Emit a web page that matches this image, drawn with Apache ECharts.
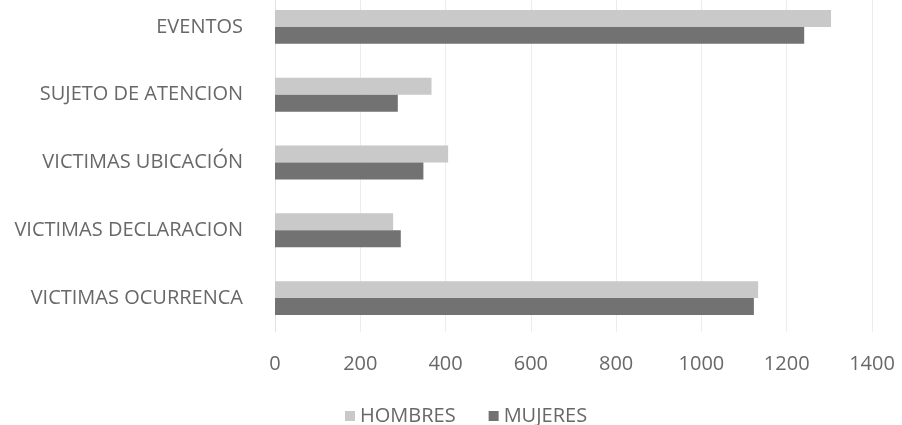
<!DOCTYPE html>
<html>
<head>
<meta charset="utf-8">
<script src="https://cdn.jsdelivr.net/npm/echarts@6/dist/echarts.min.js"></script>
<style>
  html, body { margin: 0; padding: 0; background: #ffffff; overflow: hidden; }
  /* canvas starts slightly above the page so the top band is partly cut */
  #chart { width: 902px; height: 433px; margin-top: -8px; }
</style>
</head>
<body>
<div id="chart"></div>
<script>
// Categories listed top to bottom
const categories = [
  'EVENTOS',
  'SUJETO DE ATENCION',
  'VICTIMAS UBICACIÓN',
  'VICTIMAS DECLARACION',
  'VICTIMAS OCURRENCA'
];
const hombres = [1304, 367, 406, 277, 1133];
const mujeres = [1241, 288, 348, 295, 1123];
const xTicks = [0, 200, 400, 600, 800, 1000, 1200, 1400];

const textColor = '#686868';
const fontFamily = '"Open Sans", "Noto Sans", sans-serif';
const fontSize = 20;

const chart = echarts.init(document.getElementById('chart'), null, { renderer: 'canvas' });
chart.setOption({
  backgroundColor: '#ffffff',
  animation: false,
  textStyle: { fontFamily: fontFamily, color: textColor },
  grid: { left: 275, right: 30, top: 1, bottom: 93, containLabel: false },
  legend: {
    data: ['HOMBRES', 'MUJERES'],
    left: 340,
    top: 409,
    itemWidth: 10,
    itemHeight: 10,
    itemGap: 33,
    icon: 'rect',
    textStyle: { fontFamily: fontFamily, fontSize: fontSize, color: textColor }
  },
  xAxis: {
    type: 'value',
    min: xTicks[0],
    max: xTicks[xTicks.length - 1],
    interval: 200,
    axisLine: { show: false },
    axisTick: { show: false },
    splitLine: { show: true, lineStyle: { color: '#ececec', width: 1 } },
    axisLabel: {
      margin: 22,
      fontSize: fontSize,
      color: textColor,
      fontFamily: fontFamily,
      formatter: function (v) { return String(v); }
    }
  },
  yAxis: {
    type: 'category',
    data: categories,
    inverse: true,
    axisLine: { show: true, lineStyle: { color: '#e2e2e2' } },
    axisTick: { show: false },
    axisLabel: { margin: 32, fontSize: fontSize, color: textColor, fontFamily: fontFamily }
  },
  series: [
    {
      name: 'HOMBRES',
      type: 'bar',
      data: hombres,
      barGap: '0%',
      barCategoryGap: '50%',
      itemStyle: { color: '#c9c9c9' }
    },
    {
      name: 'MUJERES',
      type: 'bar',
      data: mujeres,
      barGap: '0%',
      barCategoryGap: '50%',
      itemStyle: { color: '#727272' }
    }
  ]
});
</script>
</body>
</html>
